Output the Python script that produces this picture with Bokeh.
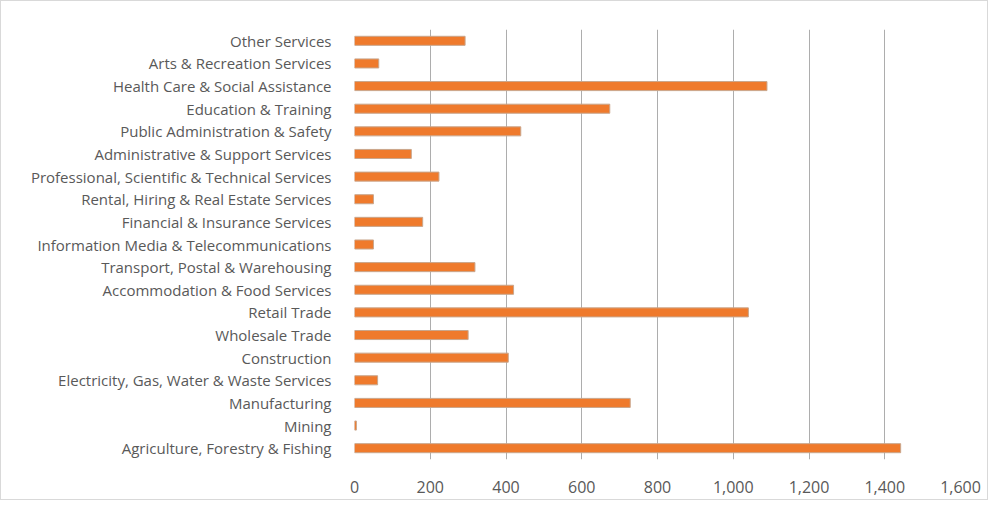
from bokeh.plotting import figure
from bokeh.models import FactorRange, NumeralTickFormatter, FixedTicker
from bokeh.embed import file_html
from bokeh.resources import INLINE

industries = [
    "Agriculture, Forestry & Fishing",
    "Mining",
    "Manufacturing",
    "Electricity, Gas, Water & Waste Services",
    "Construction",
    "Wholesale Trade",
    "Retail Trade",
    "Accommodation & Food Services",
    "Transport, Postal & Warehousing",
    "Information Media & Telecommunications",
    "Financial & Insurance Services",
    "Rental, Hiring & Real Estate Services",
    "Professional, Scientific & Technical Services",
    "Administrative & Support Services",
    "Public Administration & Safety",
    "Education & Training",
    "Health Care & Social Assistance",
    "Arts & Recreation Services",
    "Other Services",
]
counts = [1442, 5, 728, 61, 406, 300, 1040, 420, 318, 50, 180, 50, 223, 150, 439, 674, 1089, 64, 292]
x_ticks = [0, 200, 400, 600, 800, 1000, 1200, 1400, 1600]

p = figure(
    width=988, height=500,
    y_range=FactorRange(factors=industries),
    x_range=(0, 1600),
    output_backend="svg", toolbar_location=None,
    min_border_left=353, min_border_right=29, min_border_top=28, min_border_bottom=42,
)
p.styles = {"border": "1px solid #d9d9d9"}

p.hbar(y=industries, right=counts, left=0, height=0.4,
       fill_color="#EF7A2C", line_color="#C9A68C", line_width=1)

p.outline_line_color = None
p.background_fill_color = "white"
p.border_fill_color = "white"

p.ygrid.grid_line_color = None
p.xgrid.grid_line_color = "#ADADAD"
p.xgrid.grid_line_width = 1
p.xgrid.ticker = FixedTicker(ticks=x_ticks)

p.xaxis.ticker = FixedTicker(ticks=x_ticks)
p.xaxis.formatter = NumeralTickFormatter(format="0,0")
p.xaxis.axis_line_color = None
p.xaxis.major_tick_line_color = None
p.xaxis.minor_tick_line_color = None
p.xaxis.major_label_text_font = "Open Sans"
p.xaxis.major_label_text_font_size = "16px"
p.xaxis.major_label_text_color = "#595959"
p.xaxis.major_label_standoff = 15

p.yaxis.axis_line_color = None
p.yaxis.major_tick_line_color = None
p.yaxis.minor_tick_line_color = None
p.yaxis.major_label_text_font = "Open Sans"
p.yaxis.major_label_text_font_size = "15px"
p.yaxis.major_label_text_color = "#595959"
p.yaxis.major_label_standoff = 17

open("out.html", "w").write(file_html(p, INLINE))
